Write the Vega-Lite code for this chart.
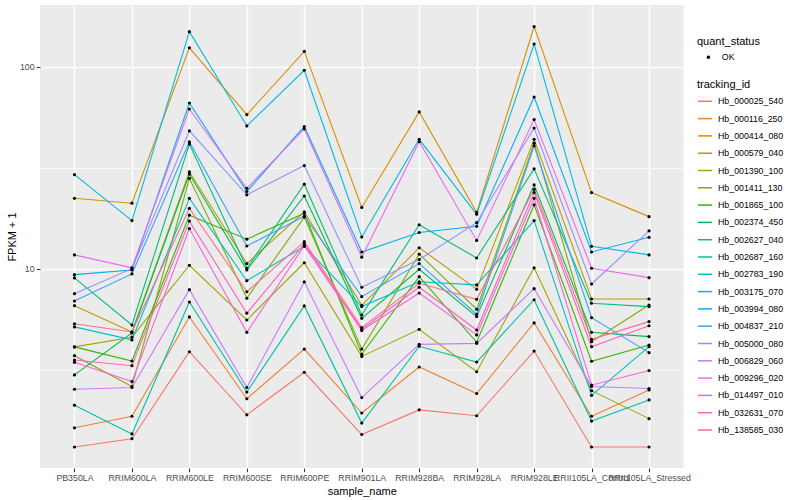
{
"$schema": "https://vega.github.io/schema/vega-lite/v6.json",
"width": 643.5, "height": 463,
"autosize": {"type": "none"},
"padding": {"left": 40, "top": 5, "right": 116.5, "bottom": 32},
"background": "white",
"config": {
 "font": "Liberation Sans",
 "view": {"fill": "#EBEBEB", "stroke": null},
 "axis": {"domain": false, "tickColor": "#333333", "tickSize": 3.67, "tickWidth": 1.07, "labelColor": "#4D4D4D", "labelFontSize": 8.8, "labelFont": "Liberation Sans", "titleFont": "Liberation Sans", "titleFontSize": 11, "titleFontWeight": "normal", "titleColor": "black", "gridColor": "white", "gridWidth": 1.4, "gridOpacity": 1, "labelPadding": 2.2},
 "legend": {"titleFontSize": 11, "titleFontWeight": "normal", "titleColor": "black", "labelFontSize": 8.8, "labelColor": "black", "labelFont": "Liberation Sans", "titleFont": "Liberation Sans", "padding": 0, "offset": 0}
},
"data": {"values": [
{"tracking_id":"Hb_000025_540","sample_name":"PB350LA","FPKM":1.31,"quant_status":"OK"},
{"tracking_id":"Hb_000025_540","sample_name":"RRIM600LA","FPKM":1.44,"quant_status":"OK"},
{"tracking_id":"Hb_000025_540","sample_name":"RRIM600LE","FPKM":3.88,"quant_status":"OK"},
{"tracking_id":"Hb_000025_540","sample_name":"RRIM600SE","FPKM":1.89,"quant_status":"OK"},
{"tracking_id":"Hb_000025_540","sample_name":"RRIM600PE","FPKM":3.07,"quant_status":"OK"},
{"tracking_id":"Hb_000025_540","sample_name":"RRIM901LA","FPKM":1.51,"quant_status":"OK"},
{"tracking_id":"Hb_000025_540","sample_name":"RRIM928BA","FPKM":2.0,"quant_status":"OK"},
{"tracking_id":"Hb_000025_540","sample_name":"RRIM928LA","FPKM":1.87,"quant_status":"OK"},
{"tracking_id":"Hb_000025_540","sample_name":"RRIM928LE","FPKM":3.91,"quant_status":"OK"},
{"tracking_id":"Hb_000025_540","sample_name":"RRII105LA_Control","FPKM":1.31,"quant_status":"OK"},
{"tracking_id":"Hb_000025_540","sample_name":"RRII105LA_Stressed","FPKM":1.31,"quant_status":"OK"},
{"tracking_id":"Hb_000116_250","sample_name":"PB350LA","FPKM":1.63,"quant_status":"OK"},
{"tracking_id":"Hb_000116_250","sample_name":"RRIM600LA","FPKM":1.86,"quant_status":"OK"},
{"tracking_id":"Hb_000116_250","sample_name":"RRIM600LE","FPKM":5.77,"quant_status":"OK"},
{"tracking_id":"Hb_000116_250","sample_name":"RRIM600SE","FPKM":2.27,"quant_status":"OK"},
{"tracking_id":"Hb_000116_250","sample_name":"RRIM600PE","FPKM":4.0,"quant_status":"OK"},
{"tracking_id":"Hb_000116_250","sample_name":"RRIM901LA","FPKM":1.93,"quant_status":"OK"},
{"tracking_id":"Hb_000116_250","sample_name":"RRIM928BA","FPKM":3.26,"quant_status":"OK"},
{"tracking_id":"Hb_000116_250","sample_name":"RRIM928LA","FPKM":2.41,"quant_status":"OK"},
{"tracking_id":"Hb_000116_250","sample_name":"RRIM928LE","FPKM":5.39,"quant_status":"OK"},
{"tracking_id":"Hb_000116_250","sample_name":"RRII105LA_Control","FPKM":1.86,"quant_status":"OK"},
{"tracking_id":"Hb_000116_250","sample_name":"RRII105LA_Stressed","FPKM":2.51,"quant_status":"OK"},
{"tracking_id":"Hb_000414_080","sample_name":"PB350LA","FPKM":22.3,"quant_status":"OK"},
{"tracking_id":"Hb_000414_080","sample_name":"RRIM600LA","FPKM":21.1,"quant_status":"OK"},
{"tracking_id":"Hb_000414_080","sample_name":"RRIM600LE","FPKM":124,"quant_status":"OK"},
{"tracking_id":"Hb_000414_080","sample_name":"RRIM600SE","FPKM":57.9,"quant_status":"OK"},
{"tracking_id":"Hb_000414_080","sample_name":"RRIM600PE","FPKM":119,"quant_status":"OK"},
{"tracking_id":"Hb_000414_080","sample_name":"RRIM901LA","FPKM":20.1,"quant_status":"OK"},
{"tracking_id":"Hb_000414_080","sample_name":"RRIM928BA","FPKM":59.7,"quant_status":"OK"},
{"tracking_id":"Hb_000414_080","sample_name":"RRIM928LA","FPKM":19.0,"quant_status":"OK"},
{"tracking_id":"Hb_000414_080","sample_name":"RRIM928LE","FPKM":158,"quant_status":"OK"},
{"tracking_id":"Hb_000414_080","sample_name":"RRII105LA_Control","FPKM":23.8,"quant_status":"OK"},
{"tracking_id":"Hb_000414_080","sample_name":"RRII105LA_Stressed","FPKM":18.1,"quant_status":"OK"},
{"tracking_id":"Hb_000579_040","sample_name":"PB350LA","FPKM":6.56,"quant_status":"OK"},
{"tracking_id":"Hb_000579_040","sample_name":"RRIM600LA","FPKM":4.86,"quant_status":"OK"},
{"tracking_id":"Hb_000579_040","sample_name":"RRIM600LE","FPKM":30.2,"quant_status":"OK"},
{"tracking_id":"Hb_000579_040","sample_name":"RRIM600SE","FPKM":10.6,"quant_status":"OK"},
{"tracking_id":"Hb_000579_040","sample_name":"RRIM600PE","FPKM":19.1,"quant_status":"OK"},
{"tracking_id":"Hb_000579_040","sample_name":"RRIM901LA","FPKM":6.59,"quant_status":"OK"},
{"tracking_id":"Hb_000579_040","sample_name":"RRIM928BA","FPKM":12.7,"quant_status":"OK"},
{"tracking_id":"Hb_000579_040","sample_name":"RRIM928LA","FPKM":7.91,"quant_status":"OK"},
{"tracking_id":"Hb_000579_040","sample_name":"RRIM928LE","FPKM":43.7,"quant_status":"OK"},
{"tracking_id":"Hb_000579_040","sample_name":"RRII105LA_Control","FPKM":7.08,"quant_status":"OK"},
{"tracking_id":"Hb_000579_040","sample_name":"RRII105LA_Stressed","FPKM":7.08,"quant_status":"OK"},
{"tracking_id":"Hb_001390_100","sample_name":"PB350LA","FPKM":4.10,"quant_status":"OK"},
{"tracking_id":"Hb_001390_100","sample_name":"RRIM600LA","FPKM":4.58,"quant_status":"OK"},
{"tracking_id":"Hb_001390_100","sample_name":"RRIM600LE","FPKM":10.4,"quant_status":"OK"},
{"tracking_id":"Hb_001390_100","sample_name":"RRIM600SE","FPKM":5.57,"quant_status":"OK"},
{"tracking_id":"Hb_001390_100","sample_name":"RRIM600PE","FPKM":10.7,"quant_status":"OK"},
{"tracking_id":"Hb_001390_100","sample_name":"RRIM901LA","FPKM":3.68,"quant_status":"OK"},
{"tracking_id":"Hb_001390_100","sample_name":"RRIM928BA","FPKM":5.01,"quant_status":"OK"},
{"tracking_id":"Hb_001390_100","sample_name":"RRIM928LA","FPKM":3.09,"quant_status":"OK"},
{"tracking_id":"Hb_001390_100","sample_name":"RRIM928LE","FPKM":10.1,"quant_status":"OK"},
{"tracking_id":"Hb_001390_100","sample_name":"RRII105LA_Control","FPKM":2.49,"quant_status":"OK"},
{"tracking_id":"Hb_001390_100","sample_name":"RRII105LA_Stressed","FPKM":1.81,"quant_status":"OK"},
{"tracking_id":"Hb_001411_130","sample_name":"PB350LA","FPKM":3.71,"quant_status":"OK"},
{"tracking_id":"Hb_001411_130","sample_name":"RRIM600LA","FPKM":2.61,"quant_status":"OK"},
{"tracking_id":"Hb_001411_130","sample_name":"RRIM600LE","FPKM":28.0,"quant_status":"OK"},
{"tracking_id":"Hb_001411_130","sample_name":"RRIM600SE","FPKM":7.14,"quant_status":"OK"},
{"tracking_id":"Hb_001411_130","sample_name":"RRIM600PE","FPKM":18.0,"quant_status":"OK"},
{"tracking_id":"Hb_001411_130","sample_name":"RRIM901LA","FPKM":4.0,"quant_status":"OK"},
{"tracking_id":"Hb_001411_130","sample_name":"RRIM928BA","FPKM":11.8,"quant_status":"OK"},
{"tracking_id":"Hb_001411_130","sample_name":"RRIM928LA","FPKM":6.30,"quant_status":"OK"},
{"tracking_id":"Hb_001411_130","sample_name":"RRIM928LE","FPKM":41.8,"quant_status":"OK"},
{"tracking_id":"Hb_001411_130","sample_name":"RRII105LA_Control","FPKM":4.35,"quant_status":"OK"},
{"tracking_id":"Hb_001411_130","sample_name":"RRII105LA_Stressed","FPKM":6.61,"quant_status":"OK"},
{"tracking_id":"Hb_001865_100","sample_name":"PB350LA","FPKM":4.10,"quant_status":"OK"},
{"tracking_id":"Hb_001865_100","sample_name":"RRIM600LA","FPKM":3.49,"quant_status":"OK"},
{"tracking_id":"Hb_001865_100","sample_name":"RRIM600LE","FPKM":18.4,"quant_status":"OK"},
{"tracking_id":"Hb_001865_100","sample_name":"RRIM600SE","FPKM":14.0,"quant_status":"OK"},
{"tracking_id":"Hb_001865_100","sample_name":"RRIM600PE","FPKM":18.8,"quant_status":"OK"},
{"tracking_id":"Hb_001865_100","sample_name":"RRIM901LA","FPKM":3.77,"quant_status":"OK"},
{"tracking_id":"Hb_001865_100","sample_name":"RRIM928BA","FPKM":9.13,"quant_status":"OK"},
{"tracking_id":"Hb_001865_100","sample_name":"RRIM928LA","FPKM":4.32,"quant_status":"OK"},
{"tracking_id":"Hb_001865_100","sample_name":"RRIM928LE","FPKM":20.7,"quant_status":"OK"},
{"tracking_id":"Hb_001865_100","sample_name":"RRII105LA_Control","FPKM":3.48,"quant_status":"OK"},
{"tracking_id":"Hb_001865_100","sample_name":"RRII105LA_Stressed","FPKM":4.19,"quant_status":"OK"},
{"tracking_id":"Hb_002374_450","sample_name":"PB350LA","FPKM":2.98,"quant_status":"OK"},
{"tracking_id":"Hb_002374_450","sample_name":"RRIM600LA","FPKM":4.81,"quant_status":"OK"},
{"tracking_id":"Hb_002374_450","sample_name":"RRIM600LE","FPKM":29.4,"quant_status":"OK"},
{"tracking_id":"Hb_002374_450","sample_name":"RRIM600SE","FPKM":9.85,"quant_status":"OK"},
{"tracking_id":"Hb_002374_450","sample_name":"RRIM600PE","FPKM":22.9,"quant_status":"OK"},
{"tracking_id":"Hb_002374_450","sample_name":"RRIM901LA","FPKM":5.68,"quant_status":"OK"},
{"tracking_id":"Hb_002374_450","sample_name":"RRIM928BA","FPKM":9.93,"quant_status":"OK"},
{"tracking_id":"Hb_002374_450","sample_name":"RRIM928LA","FPKM":5.79,"quant_status":"OK"},
{"tracking_id":"Hb_002374_450","sample_name":"RRIM928LE","FPKM":26.0,"quant_status":"OK"},
{"tracking_id":"Hb_002374_450","sample_name":"RRII105LA_Control","FPKM":4.84,"quant_status":"OK"},
{"tracking_id":"Hb_002374_450","sample_name":"RRII105LA_Stressed","FPKM":4.61,"quant_status":"OK"},
{"tracking_id":"Hb_002627_040","sample_name":"PB350LA","FPKM":9.0,"quant_status":"OK"},
{"tracking_id":"Hb_002627_040","sample_name":"RRIM600LA","FPKM":5.26,"quant_status":"OK"},
{"tracking_id":"Hb_002627_040","sample_name":"RRIM600LE","FPKM":41.4,"quant_status":"OK"},
{"tracking_id":"Hb_002627_040","sample_name":"RRIM600SE","FPKM":10.05,"quant_status":"OK"},
{"tracking_id":"Hb_002627_040","sample_name":"RRIM600PE","FPKM":26.2,"quant_status":"OK"},
{"tracking_id":"Hb_002627_040","sample_name":"RRIM901LA","FPKM":5.9,"quant_status":"OK"},
{"tracking_id":"Hb_002627_040","sample_name":"RRIM928BA","FPKM":16.5,"quant_status":"OK"},
{"tracking_id":"Hb_002627_040","sample_name":"RRIM928LA","FPKM":11.3,"quant_status":"OK"},
{"tracking_id":"Hb_002627_040","sample_name":"RRIM928LE","FPKM":31.2,"quant_status":"OK"},
{"tracking_id":"Hb_002627_040","sample_name":"RRII105LA_Control","FPKM":6.74,"quant_status":"OK"},
{"tracking_id":"Hb_002627_040","sample_name":"RRII105LA_Stressed","FPKM":6.49,"quant_status":"OK"},
{"tracking_id":"Hb_002687_160","sample_name":"PB350LA","FPKM":2.11,"quant_status":"OK"},
{"tracking_id":"Hb_002687_160","sample_name":"RRIM600LA","FPKM":1.52,"quant_status":"OK"},
{"tracking_id":"Hb_002687_160","sample_name":"RRIM600LE","FPKM":6.84,"quant_status":"OK"},
{"tracking_id":"Hb_002687_160","sample_name":"RRIM600SE","FPKM":2.45,"quant_status":"OK"},
{"tracking_id":"Hb_002687_160","sample_name":"RRIM600PE","FPKM":6.54,"quant_status":"OK"},
{"tracking_id":"Hb_002687_160","sample_name":"RRIM901LA","FPKM":1.72,"quant_status":"OK"},
{"tracking_id":"Hb_002687_160","sample_name":"RRIM928BA","FPKM":4.13,"quant_status":"OK"},
{"tracking_id":"Hb_002687_160","sample_name":"RRIM928LA","FPKM":3.45,"quant_status":"OK"},
{"tracking_id":"Hb_002687_160","sample_name":"RRIM928LE","FPKM":7.02,"quant_status":"OK"},
{"tracking_id":"Hb_002687_160","sample_name":"RRII105LA_Control","FPKM":1.76,"quant_status":"OK"},
{"tracking_id":"Hb_002687_160","sample_name":"RRII105LA_Stressed","FPKM":2.24,"quant_status":"OK"},
{"tracking_id":"Hb_002783_190","sample_name":"PB350LA","FPKM":5.15,"quant_status":"OK"},
{"tracking_id":"Hb_002783_190","sample_name":"RRIM600LA","FPKM":4.44,"quant_status":"OK"},
{"tracking_id":"Hb_002783_190","sample_name":"RRIM600LE","FPKM":22.3,"quant_status":"OK"},
{"tracking_id":"Hb_002783_190","sample_name":"RRIM600SE","FPKM":8.72,"quant_status":"OK"},
{"tracking_id":"Hb_002783_190","sample_name":"RRIM600PE","FPKM":12.9,"quant_status":"OK"},
{"tracking_id":"Hb_002783_190","sample_name":"RRIM901LA","FPKM":6.49,"quant_status":"OK"},
{"tracking_id":"Hb_002783_190","sample_name":"RRIM928BA","FPKM":8.62,"quant_status":"OK"},
{"tracking_id":"Hb_002783_190","sample_name":"RRIM928LA","FPKM":8.31,"quant_status":"OK"},
{"tracking_id":"Hb_002783_190","sample_name":"RRIM928LE","FPKM":17.3,"quant_status":"OK"},
{"tracking_id":"Hb_002783_190","sample_name":"RRII105LA_Control","FPKM":2.36,"quant_status":"OK"},
{"tracking_id":"Hb_002783_190","sample_name":"RRII105LA_Stressed","FPKM":4.11,"quant_status":"OK"},
{"tracking_id":"Hb_003175_070","sample_name":"PB350LA","FPKM":29.2,"quant_status":"OK"},
{"tracking_id":"Hb_003175_070","sample_name":"RRIM600LA","FPKM":17.3,"quant_status":"OK"},
{"tracking_id":"Hb_003175_070","sample_name":"RRIM600LE","FPKM":149,"quant_status":"OK"},
{"tracking_id":"Hb_003175_070","sample_name":"RRIM600SE","FPKM":50.9,"quant_status":"OK"},
{"tracking_id":"Hb_003175_070","sample_name":"RRIM600PE","FPKM":96.0,"quant_status":"OK"},
{"tracking_id":"Hb_003175_070","sample_name":"RRIM901LA","FPKM":14.35,"quant_status":"OK"},
{"tracking_id":"Hb_003175_070","sample_name":"RRIM928BA","FPKM":43.7,"quant_status":"OK"},
{"tracking_id":"Hb_003175_070","sample_name":"RRIM928LA","FPKM":18.6,"quant_status":"OK"},
{"tracking_id":"Hb_003175_070","sample_name":"RRIM928LE","FPKM":129.5,"quant_status":"OK"},
{"tracking_id":"Hb_003175_070","sample_name":"RRII105LA_Control","FPKM":12.9,"quant_status":"OK"},
{"tracking_id":"Hb_003175_070","sample_name":"RRII105LA_Stressed","FPKM":11.7,"quant_status":"OK"},
{"tracking_id":"Hb_003994_080","sample_name":"PB350LA","FPKM":9.34,"quant_status":"OK"},
{"tracking_id":"Hb_003994_080","sample_name":"RRIM600LA","FPKM":9.85,"quant_status":"OK"},
{"tracking_id":"Hb_003994_080","sample_name":"RRIM600LE","FPKM":66.1,"quant_status":"OK"},
{"tracking_id":"Hb_003994_080","sample_name":"RRIM600SE","FPKM":24.1,"quant_status":"OK"},
{"tracking_id":"Hb_003994_080","sample_name":"RRIM600PE","FPKM":50.5,"quant_status":"OK"},
{"tracking_id":"Hb_003994_080","sample_name":"RRIM901LA","FPKM":12.1,"quant_status":"OK"},
{"tracking_id":"Hb_003994_080","sample_name":"RRIM928BA","FPKM":15.1,"quant_status":"OK"},
{"tracking_id":"Hb_003994_080","sample_name":"RRIM928LA","FPKM":16.2,"quant_status":"OK"},
{"tracking_id":"Hb_003994_080","sample_name":"RRIM928LE","FPKM":70.8,"quant_status":"OK"},
{"tracking_id":"Hb_003994_080","sample_name":"RRII105LA_Control","FPKM":12.1,"quant_status":"OK"},
{"tracking_id":"Hb_003994_080","sample_name":"RRII105LA_Stressed","FPKM":14.3,"quant_status":"OK"},
{"tracking_id":"Hb_004837_210","sample_name":"PB350LA","FPKM":6.92,"quant_status":"OK"},
{"tracking_id":"Hb_004837_210","sample_name":"RRIM600LA","FPKM":9.42,"quant_status":"OK"},
{"tracking_id":"Hb_004837_210","sample_name":"RRIM600LE","FPKM":42.5,"quant_status":"OK"},
{"tracking_id":"Hb_004837_210","sample_name":"RRIM600SE","FPKM":12.95,"quant_status":"OK"},
{"tracking_id":"Hb_004837_210","sample_name":"RRIM600PE","FPKM":18.2,"quant_status":"OK"},
{"tracking_id":"Hb_004837_210","sample_name":"RRIM901LA","FPKM":7.27,"quant_status":"OK"},
{"tracking_id":"Hb_004837_210","sample_name":"RRIM928BA","FPKM":10.6,"quant_status":"OK"},
{"tracking_id":"Hb_004837_210","sample_name":"RRIM928LA","FPKM":5.95,"quant_status":"OK"},
{"tracking_id":"Hb_004837_210","sample_name":"RRIM928LE","FPKM":40.6,"quant_status":"OK"},
{"tracking_id":"Hb_004837_210","sample_name":"RRII105LA_Control","FPKM":5.72,"quant_status":"OK"},
{"tracking_id":"Hb_004837_210","sample_name":"RRII105LA_Stressed","FPKM":3.84,"quant_status":"OK"},
{"tracking_id":"Hb_005000_080","sample_name":"PB350LA","FPKM":7.52,"quant_status":"OK"},
{"tracking_id":"Hb_005000_080","sample_name":"RRIM600LA","FPKM":10.0,"quant_status":"OK"},
{"tracking_id":"Hb_005000_080","sample_name":"RRIM600LE","FPKM":48.1,"quant_status":"OK"},
{"tracking_id":"Hb_005000_080","sample_name":"RRIM600SE","FPKM":23.2,"quant_status":"OK"},
{"tracking_id":"Hb_005000_080","sample_name":"RRIM600PE","FPKM":32.4,"quant_status":"OK"},
{"tracking_id":"Hb_005000_080","sample_name":"RRIM901LA","FPKM":8.09,"quant_status":"OK"},
{"tracking_id":"Hb_005000_080","sample_name":"RRIM928BA","FPKM":11.1,"quant_status":"OK"},
{"tracking_id":"Hb_005000_080","sample_name":"RRIM928LA","FPKM":16.9,"quant_status":"OK"},
{"tracking_id":"Hb_005000_080","sample_name":"RRIM928LE","FPKM":49.7,"quant_status":"OK"},
{"tracking_id":"Hb_005000_080","sample_name":"RRII105LA_Control","FPKM":8.40,"quant_status":"OK"},
{"tracking_id":"Hb_005000_080","sample_name":"RRII105LA_Stressed","FPKM":15.4,"quant_status":"OK"},
{"tracking_id":"Hb_006829_060","sample_name":"PB350LA","FPKM":2.53,"quant_status":"OK"},
{"tracking_id":"Hb_006829_060","sample_name":"RRIM600LA","FPKM":2.58,"quant_status":"OK"},
{"tracking_id":"Hb_006829_060","sample_name":"RRIM600LE","FPKM":7.87,"quant_status":"OK"},
{"tracking_id":"Hb_006829_060","sample_name":"RRIM600SE","FPKM":2.58,"quant_status":"OK"},
{"tracking_id":"Hb_006829_060","sample_name":"RRIM600PE","FPKM":8.6,"quant_status":"OK"},
{"tracking_id":"Hb_006829_060","sample_name":"RRIM901LA","FPKM":2.3,"quant_status":"OK"},
{"tracking_id":"Hb_006829_060","sample_name":"RRIM928BA","FPKM":4.22,"quant_status":"OK"},
{"tracking_id":"Hb_006829_060","sample_name":"RRIM928LA","FPKM":4.27,"quant_status":"OK"},
{"tracking_id":"Hb_006829_060","sample_name":"RRIM928LE","FPKM":7.96,"quant_status":"OK"},
{"tracking_id":"Hb_006829_060","sample_name":"RRII105LA_Control","FPKM":2.61,"quant_status":"OK"},
{"tracking_id":"Hb_006829_060","sample_name":"RRII105LA_Stressed","FPKM":2.55,"quant_status":"OK"},
{"tracking_id":"Hb_009296_020","sample_name":"PB350LA","FPKM":11.7,"quant_status":"OK"},
{"tracking_id":"Hb_009296_020","sample_name":"RRIM600LA","FPKM":10.1,"quant_status":"OK"},
{"tracking_id":"Hb_009296_020","sample_name":"RRIM600LE","FPKM":61.7,"quant_status":"OK"},
{"tracking_id":"Hb_009296_020","sample_name":"RRIM600SE","FPKM":25.0,"quant_status":"OK"},
{"tracking_id":"Hb_009296_020","sample_name":"RRIM600PE","FPKM":49.2,"quant_status":"OK"},
{"tracking_id":"Hb_009296_020","sample_name":"RRIM901LA","FPKM":11.4,"quant_status":"OK"},
{"tracking_id":"Hb_009296_020","sample_name":"RRIM928BA","FPKM":42.5,"quant_status":"OK"},
{"tracking_id":"Hb_009296_020","sample_name":"RRIM928LA","FPKM":13.8,"quant_status":"OK"},
{"tracking_id":"Hb_009296_020","sample_name":"RRIM928LE","FPKM":54.7,"quant_status":"OK"},
{"tracking_id":"Hb_009296_020","sample_name":"RRII105LA_Control","FPKM":10.05,"quant_status":"OK"},
{"tracking_id":"Hb_009296_020","sample_name":"RRII105LA_Stressed","FPKM":9.03,"quant_status":"OK"},
{"tracking_id":"Hb_014497_010","sample_name":"PB350LA","FPKM":3.44,"quant_status":"OK"},
{"tracking_id":"Hb_014497_010","sample_name":"RRIM600LA","FPKM":2.76,"quant_status":"OK"},
{"tracking_id":"Hb_014497_010","sample_name":"RRIM600LE","FPKM":15.8,"quant_status":"OK"},
{"tracking_id":"Hb_014497_010","sample_name":"RRIM600SE","FPKM":4.84,"quant_status":"OK"},
{"tracking_id":"Hb_014497_010","sample_name":"RRIM600PE","FPKM":13.0,"quant_status":"OK"},
{"tracking_id":"Hb_014497_010","sample_name":"RRIM901LA","FPKM":4.94,"quant_status":"OK"},
{"tracking_id":"Hb_014497_010","sample_name":"RRIM928BA","FPKM":7.58,"quant_status":"OK"},
{"tracking_id":"Hb_014497_010","sample_name":"RRIM928LA","FPKM":4.70,"quant_status":"OK"},
{"tracking_id":"Hb_014497_010","sample_name":"RRIM928LE","FPKM":22.3,"quant_status":"OK"},
{"tracking_id":"Hb_014497_010","sample_name":"RRII105LA_Control","FPKM":2.65,"quant_status":"OK"},
{"tracking_id":"Hb_014497_010","sample_name":"RRII105LA_Stressed","FPKM":3.13,"quant_status":"OK"},
{"tracking_id":"Hb_032631_070","sample_name":"PB350LA","FPKM":3.53,"quant_status":"OK"},
{"tracking_id":"Hb_032631_070","sample_name":"RRIM600LA","FPKM":3.31,"quant_status":"OK"},
{"tracking_id":"Hb_032631_070","sample_name":"RRIM600LE","FPKM":17.2,"quant_status":"OK"},
{"tracking_id":"Hb_032631_070","sample_name":"RRIM600SE","FPKM":6.02,"quant_status":"OK"},
{"tracking_id":"Hb_032631_070","sample_name":"RRIM600PE","FPKM":13.25,"quant_status":"OK"},
{"tracking_id":"Hb_032631_070","sample_name":"RRIM901LA","FPKM":5.01,"quant_status":"OK"},
{"tracking_id":"Hb_032631_070","sample_name":"RRIM928BA","FPKM":8.09,"quant_status":"OK"},
{"tracking_id":"Hb_032631_070","sample_name":"RRIM928LA","FPKM":4.97,"quant_status":"OK"},
{"tracking_id":"Hb_032631_070","sample_name":"RRIM928LE","FPKM":23.8,"quant_status":"OK"},
{"tracking_id":"Hb_032631_070","sample_name":"RRII105LA_Control","FPKM":4.11,"quant_status":"OK"},
{"tracking_id":"Hb_032631_070","sample_name":"RRII105LA_Stressed","FPKM":5.22,"quant_status":"OK"},
{"tracking_id":"Hb_138585_030","sample_name":"PB350LA","FPKM":5.34,"quant_status":"OK"},
{"tracking_id":"Hb_138585_030","sample_name":"RRIM600LA","FPKM":4.86,"quant_status":"OK"},
{"tracking_id":"Hb_138585_030","sample_name":"RRIM600LE","FPKM":19.9,"quant_status":"OK"},
{"tracking_id":"Hb_138585_030","sample_name":"RRIM600SE","FPKM":7.69,"quant_status":"OK"},
{"tracking_id":"Hb_138585_030","sample_name":"RRIM600PE","FPKM":13.6,"quant_status":"OK"},
{"tracking_id":"Hb_138585_030","sample_name":"RRIM901LA","FPKM":5.11,"quant_status":"OK"},
{"tracking_id":"Hb_138585_030","sample_name":"RRIM928BA","FPKM":8.47,"quant_status":"OK"},
{"tracking_id":"Hb_138585_030","sample_name":"RRIM928LA","FPKM":7.05,"quant_status":"OK"},
{"tracking_id":"Hb_138585_030","sample_name":"RRIM928LE","FPKM":24.7,"quant_status":"OK"},
{"tracking_id":"Hb_138585_030","sample_name":"RRII105LA_Control","FPKM":4.47,"quant_status":"OK"},
{"tracking_id":"Hb_138585_030","sample_name":"RRII105LA_Stressed","FPKM":5.47,"quant_status":"OK"}
]},
"resolve": {"axis": {"y": "independent"}},
"layer": [
 {"mark": {"type": "line", "strokeWidth": 1.1},
  "encoding": {
   "x": {"field": "sample_name", "type": "nominal",
     "sort": ["PB350LA","RRIM600LA","RRIM600LE","RRIM600SE","RRIM600PE","RRIM901LA","RRIM928BA","RRIM928LA","RRIM928LE","RRII105LA_Control","RRII105LA_Stressed"],
     "scale": {"type": "point", "padding": 0.6},
     "axis": {"title": "sample_name", "grid": true, "labelAngle": 0, "labelOverlap": false, "labelBound": false, "labelFlush": false, "titlePadding": 2.5}},
   "y": {"field": "FPKM", "type": "quantitative",
     "scale": {"type": "log", "domain": [1.031, 202], "nice": false, "zero": false},
     "axis": {"title": "FPKM + 1", "values": [10, 100], "format": "d", "grid": true, "titlePadding": 1.5}},
   "color": {"field": "tracking_id", "type": "nominal",
     "scale": {"domain": ["Hb_000025_540","Hb_000116_250","Hb_000414_080","Hb_000579_040","Hb_001390_100","Hb_001411_130","Hb_001865_100","Hb_002374_450","Hb_002627_040","Hb_002687_160","Hb_002783_190","Hb_003175_070","Hb_003994_080","Hb_004837_210","Hb_005000_080","Hb_006829_060","Hb_009296_020","Hb_014497_010","Hb_032631_070","Hb_138585_030"],
       "range": ["#F8766D","#EA8331","#D89000","#C09B00","#A3A500","#7CAE00","#39B600","#00BB4E","#00BF7D","#00C1A3","#00BFC4","#00BAE0","#00B0F6","#35A2FF","#9590FF","#C77CFF","#E76BF3","#FA62DB","#FF62BC","#FF6C91"]},
     "legend": {"title": "tracking_id", "orient": "none", "legendX": 657, "legendY": 73.8, "symbolType": "stroke", "symbolSize": 196, "symbolStrokeWidth": 1.5, "rowPadding": 4.3, "titlePadding": 3.5, "labelOffset": 5}}
  }},
 {"mark": {"type": "point", "filled": true, "color": "black", "size": 10, "opacity": 1},
  "encoding": {
   "x": {"field": "sample_name", "type": "nominal",
     "sort": ["PB350LA","RRIM600LA","RRIM600LE","RRIM600SE","RRIM600PE","RRIM901LA","RRIM928BA","RRIM928LA","RRIM928LE","RRII105LA_Control","RRII105LA_Stressed"]},
   "y": {"field": "FPKM", "type": "quantitative",
     "axis": {"values": [3.1623, 31.623], "grid": true, "gridWidth": 0.7, "labels": false, "ticks": false, "title": null, "orient": "left", "domain": false}},
   "shape": {"field": "quant_status", "type": "nominal",
     "scale": {"range": ["circle"]},
     "legend": {"title": "quant_status", "orient": "none", "legendX": 657, "legendY": 30.5, "symbolFillColor": "black", "symbolStrokeColor": "black", "symbolSize": 12, "symbolOffset": 7, "titlePadding": 6.3, "labelOffset": 9}}
  }}
]
}
